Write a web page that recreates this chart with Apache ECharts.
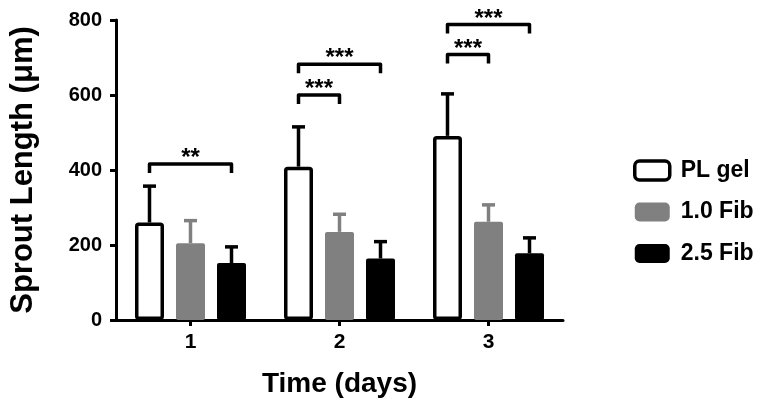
<!DOCTYPE html>
<html><head><meta charset="utf-8">
<script src="https://cdn.jsdelivr.net/npm/echarts@6/dist/echarts.min.js"></script>
<style>html,body{margin:0;padding:0;background:#fff}#c{width:764px;height:409px}</style>
</head><body><div id="c"></div>
<script>
const categories = ['1', '2', '3'];
const seriesNames = ['PL gel', '1.0 Fib', '2.5 Fib'];
const plGel = [260, 409, 491];
const fib10 = [205, 235, 262];
const fib25 = [152, 164, 178];
const plGelErr = [97, 106, 112];
const fib10Err = [60, 47, 45];
const fib25Err = [43, 45, 41];
const yTickMin = 0, yTickMax = 800, yTickStep = 200;
const bracketDay = [0, 1, 1, 2, 2];
const bracketFrom = [0, 0, 0, 0, 0];
const bracketTo = [2, 1, 2, 1, 2];
const bracketY = [416, 600, 682, 708, 788];
const bracketLabels = ['**', '***', '***', '***', '***'];

const FONT = 'Arial, "Liberation Sans", Helvetica, sans-serif';
const GRAY = '#808080';
const BAR_W = 29, BAR_GAP = 12;
const errColors = ['#000000', GRAY, '#000000'];
const means = [plGel, fib10, fib25];
const errs = [plGelErr, fib10Err, fib25Err];
function offsetOf(g) { return (g - 1) * (BAR_W + BAR_GAP); }

const errData = [];
means.forEach((arr, g) => arr.forEach((v, i) => errData.push([i, v, errs[g][i], g])));
const bracketData = bracketDay.map((d, k) => [d, bracketFrom[k], bracketTo[k], bracketY[k]]);

const chart = echarts.init(document.getElementById('c'), null, { renderer: 'canvas' });
const barGapPct = (BAR_GAP / BAR_W * 100) + '%';
const LW = 3.5;

chart.setOption({
  animation: false,
  backgroundColor: '#ffffff',
  grid: { left: 114, right: 201, top: 20, bottom: 89, containLabel: false },
  legend: {
    orient: 'vertical', left: 628, top: 154,
    itemWidth: 35, itemHeight: 19, itemGap: 18.5,
    icon: 'roundRect', selectedMode: false,
    textStyle: { fontSize: 23, fontWeight: 'bold', color: '#000', fontFamily: FONT, padding: [0, 0, 0, 6], lineHeight: 19 },
    data: [
      { name: seriesNames[0], itemStyle: { color: '#ffffff', borderColor: '#000', borderWidth: LW } },
      { name: seriesNames[1], itemStyle: { color: GRAY, borderWidth: 0 } },
      { name: seriesNames[2], itemStyle: { color: '#000000', borderWidth: 0 } }
    ]
  },
  xAxis: {
    type: 'category', data: categories,
    axisLine: { show: true, lineStyle: { color: '#000', width: 3 } },
    axisTick: { show: true, alignWithLabel: true, length: 6, lineStyle: { color: '#000', width: 3 } },
    axisLabel: { color: '#000', fontSize: 21, fontWeight: 'bold', fontFamily: FONT, margin: 12 },
    splitLine: { show: false },
    name: 'Time (days)', nameLocation: 'middle', nameGap: 50,
    nameTextStyle: { color: '#000', fontSize: 28, fontWeight: 'bold', fontFamily: FONT }
  },
  yAxis: {
    type: 'value', min: yTickMin, max: yTickMax, interval: yTickStep,
    axisLine: { show: true, lineStyle: { color: '#000', width: 3 } },
    axisTick: { show: true, length: 6, lineStyle: { color: '#000', width: 3 } },
    axisLabel: { color: '#000', fontSize: 20, fontWeight: 'bold', fontFamily: FONT, margin: 14 },
    splitLine: { show: false },
    name: 'Sprout Length (μm)', nameLocation: 'middle', nameGap: 77,
    nameTextStyle: { color: '#000', fontSize: 31, fontWeight: 'bold', fontFamily: FONT }
  },
  series: [
    { name: seriesNames[0], type: 'bar', data: plGel, barWidth: BAR_W, barGap: barGapPct,
      itemStyle: { color: '#ffffff', borderColor: '#000', borderWidth: LW, borderRadius: 2 } },
    { name: seriesNames[1], type: 'bar', data: fib10, barWidth: BAR_W, barGap: barGapPct,
      itemStyle: { color: GRAY, borderRadius: 2 } },
    { name: seriesNames[2], type: 'bar', data: fib25, barWidth: BAR_W, barGap: barGapPct,
      itemStyle: { color: '#000000', borderRadius: 2 } },
    { type: 'custom', clip: false, z: 3, data: errData, encode: { x: 0, y: 1 },
      renderItem: function (params, api) {
        const c = api.value(0), m = api.value(1), e = api.value(2), g = api.value(3);
        const p0 = api.coord([c, m]);
        const p1 = api.coord([c, m + e]);
        const x = p0[0] + offsetOf(g);
        const col = errColors[g];
        return { type: 'group', children: [
          { type: 'line', shape: { x1: x, y1: p0[1], x2: x, y2: p1[1] }, style: { stroke: col, lineWidth: LW } },
          { type: 'line', shape: { x1: x - 6.5, y1: p1[1], x2: x + 6.5, y2: p1[1] }, style: { stroke: col, lineWidth: LW } }
        ] };
      } },
    { type: 'custom', clip: false, z: 3, data: bracketData, encode: { x: 0, y: 3 },
      renderItem: function (params, api) {
        const c = api.value(0), f = api.value(1), t = api.value(2), y = api.value(3);
        const p = api.coord([c, y]);
        const x1 = p[0] + offsetOf(f), x2 = p[0] + offsetOf(t);
        return { type: 'group', children: [
          { type: 'polyline', shape: { points: [[x1, p[1] + 9], [x1, p[1]], [x2, p[1]], [x2, p[1] + 9]] },
            style: { stroke: '#000', lineWidth: LW, fill: null, lineJoin: 'round' } },
          { type: 'text', x: (x1 + x2) / 2, y: p[1] - 5.5,
            style: { text: bracketLabels[params.dataIndex], fill: '#000', font: 'bold 24px ' + FONT,
                     align: 'center', verticalAlign: 'middle' } }
        ] };
      } }
  ]
});
</script>
</body></html>
